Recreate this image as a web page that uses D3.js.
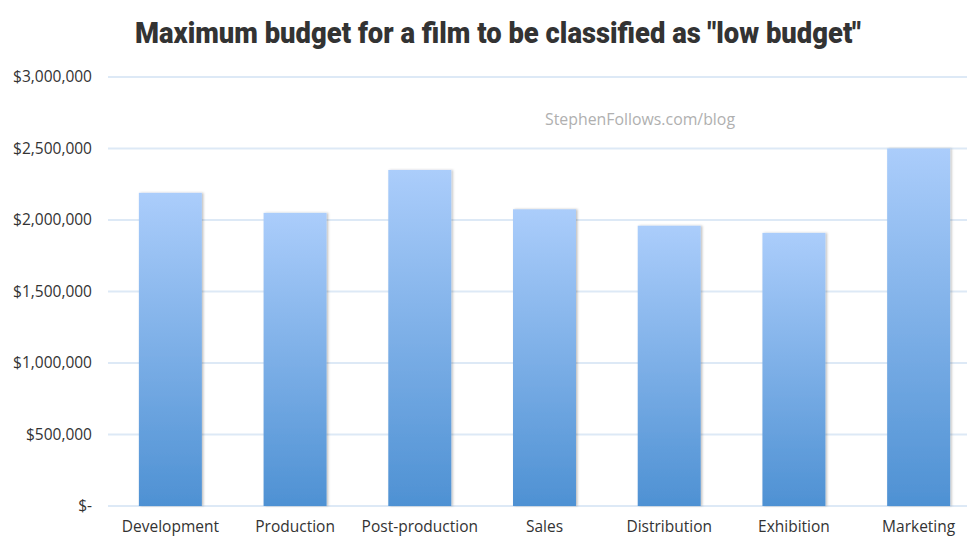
<!DOCTYPE html>
<meta charset="utf-8">
<script src="https://d3js.org/d3.v7.min.js"></script>
<style>
  body { margin: 0; background: #fff; }
  text { font-family: "Open Sans", "DejaVu Sans", sans-serif; }
</style>
<div id="chart"></div>
<script>

// chart data
var categories = ["Development", "Production", "Post-production", "Sales", "Distribution", "Exhibition", "Marketing"];
var budgets = [2190000, 2050000, 2350000, 2075000, 1960000, 1910000, 2500000];
var tickValues = [0, 500000, 1000000, 1500000, 2000000, 2500000, 3000000];
var tickLabels = ["$-", "$500,000", "$1,000,000", "$1,500,000", "$2,000,000", "$2,500,000", "$3,000,000"];

var W = 967, H = 537;
var margin = {top: 77, right: -14, bottom: 31, left: 108};
var width = W - margin.left - margin.right,
    height = H - margin.top - margin.bottom;

var svg = d3.select("#chart").append("svg")
  .attr("width", W)
  .attr("height", H);

// gradient for the bars
var defs = svg.append("defs");
var grad = defs.append("linearGradient")
  .attr("id", "barGrad")
  .attr("x1", 0).attr("y1", 0).attr("x2", 0).attr("y2", 1);
grad.append("stop").attr("offset", "0%").attr("stop-color", "#abcdfb");
grad.append("stop").attr("offset", "100%").attr("stop-color", "#4e91d3");

var shadow = defs.append("filter").attr("id", "shadow")
  .attr("x", "-10%").attr("y", "-10%").attr("width", "130%").attr("height", "130%");
shadow.append("feDropShadow")
  .attr("dx", 1.5).attr("dy", 0).attr("stdDeviation", 1.2)
  .attr("flood-color", "#000").attr("flood-opacity", 0.25);

// title
svg.append("text")
  .attr("x", 498)
  .attr("y", 43)
  .attr("text-anchor", "middle")
  .attr("textLength", 726)
  .attr("lengthAdjust", "spacingAndGlyphs")
  .style("font-family", "'Roboto', sans-serif")
  .style("font-weight", "900")
  .style("font-size", "30px")
  .style("fill", "#333")
  .text("Maximum budget for a film to be classified as \"low budget\"");

var g = svg.append("g")
  .attr("transform", "translate(" + margin.left + "," + margin.top + ")");

var x = d3.scaleBand()
  .domain(categories)
  .range([0, width])
  .paddingInner(0.495)
  .paddingOuter(0.2475);

var y = d3.scaleLinear()
  .domain([0, 3000000])
  .range([height, 0]);

// gridlines
g.append("g")
  .selectAll("line")
  .data(tickValues)
  .enter().append("line")
    .attr("x1", 0)
    .attr("x2", width)
    .attr("y1", function(d) { return y(d); })
    .attr("y2", function(d) { return y(d); })
    .attr("stroke", "#dde9f6")
    .attr("stroke-width", 2);

// y axis labels
var yAxis = d3.axisLeft(y)
  .tickValues(tickValues)
  .tickSize(0)
  .tickPadding(16)
  .tickFormat(function(d, i) { return tickLabels[i]; });
g.append("g")
  .call(yAxis)
  .call(function(s) { s.select(".domain").remove(); })
  .selectAll("text")
    .style("font-size", "15.5px")
    .style("fill", "#333")
    .style("font-family", "'Open Sans', sans-serif");

// watermark
g.append("text")
  .attr("x", 532)
  .attr("y", y(2665000))
  .attr("text-anchor", "middle")
  .attr("textLength", 190)
  .attr("lengthAdjust", "spacingAndGlyphs")
  .style("font-size", "17px")
  .style("fill", "#b0b0b0")
  .style("font-family", "'Open Sans', sans-serif")
  .text("StephenFollows.com/blog");

// bars
g.selectAll("rect.bar")
  .data(budgets)
  .enter().append("rect")
    .attr("class", "bar")
    .attr("x", function(d, i) { return x(categories[i]); })
    .attr("y", function(d) { return y(d); })
    .attr("width", x.bandwidth())
    .attr("height", function(d) { return height - y(d); })
    .attr("fill", "url(#barGrad)")
    .attr("filter", "url(#shadow)");

// x axis labels
var xAxis = d3.axisBottom(x).tickSize(0).tickPadding(15);
g.append("g")
  .attr("transform", "translate(0," + height + ")")
  .call(xAxis)
  .call(function(s) { s.select(".domain").remove(); })
  .selectAll("text")
    .style("font-size", "15.5px")
    .style("fill", "#333")
    .style("font-family", "'Open Sans', sans-serif");

</script>
